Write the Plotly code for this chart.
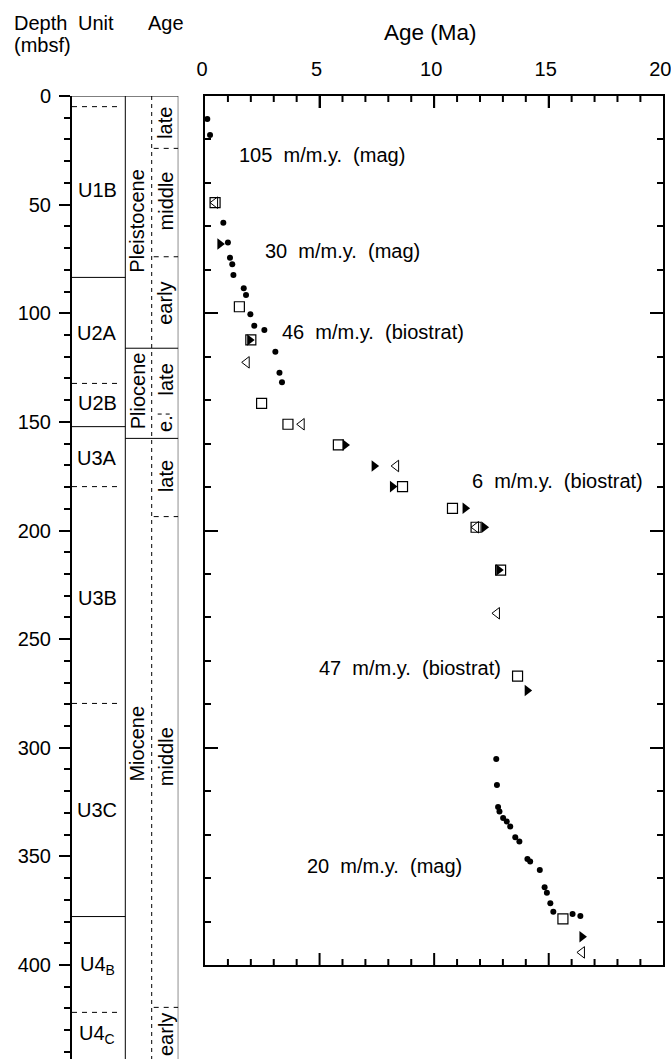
import plotly.graph_objects as go

W, H = 671, 1059
FONT = "Liberation Sans, Arial, sans-serif"
FS = 20

# ---------------- data (age in Ma, depth in mbsf) ----------------
mag_age = [0.10, 0.22, 0.80, 1.00, 1.09, 1.19, 1.24, 1.69, 1.79, 1.98, 2.15, 2.59, 3.07, 3.25, 3.36,
           12.71, 12.74, 12.79, 12.85, 13.01, 13.17, 13.32, 13.54, 13.72, 14.07, 14.19, 14.61,
           14.82, 14.92, 15.07, 15.20, 16.04, 16.38]
mag_depth = [10.6, 18.0, 58.3, 67.4, 74.4, 77.5, 82.4, 88.5, 91.6, 100.5, 105.7, 107.7, 117.7, 127.4, 131.8,
             305.2, 317.1, 327.3, 329.3, 332.3, 334.0, 336.2, 341.2, 343.2, 351.2, 352.4, 356.3,
             364.2, 366.7, 371.6, 375.5, 376.5, 377.4]

sq_age = [0.44, 1.50, 2.00, 2.47, 3.62, 5.82, 8.62, 10.80, 11.83, 12.90, 13.64, 15.62]
sq_depth = [49.1, 97.0, 112.3, 141.5, 151.1, 160.6, 179.8, 189.8, 198.5, 218.2, 267.0, 378.8]

trf_age = [0.65, 1.95, 6.11, 7.38, 8.18, 11.35, 12.18, 12.82, 14.06, 16.45]
trf_depth = [68.1, 112.3, 160.6, 170.3, 179.8, 189.8, 198.5, 218.2, 273.6, 387.0]

tro_age = [0.44, 1.82, 4.22, 8.34, 11.83, 12.74, 16.45]
tro_depth = [49.1, 122.6, 151.1, 170.3, 198.5, 238.1, 394.2]

rate_labels = ["105\u00a0 m/m.y.\u00a0 (mag)", "30\u00a0 m/m.y.\u00a0 (mag)", "46\u00a0 m/m.y.\u00a0 (biostrat)",
               "6\u00a0 m/m.y.\u00a0 (biostrat)", "47\u00a0 m/m.y.\u00a0 (biostrat)", "20\u00a0 m/m.y.\u00a0 (mag)"]
rate_age = [1.40, 2.53, 3.27, 11.57, 13.0, 4.37]
rate_depth = [27.2, 71.3, 108.5, 177.1, 263.3, 354.4]
rate_anchor = ["left", "left", "left", "left", "right", "left"]

# age-axis tick values
age_major_ticks = [0, 5, 10, 15, 20]
age_minor_ticks = [1, 2, 3, 4, 6, 7, 8, 9, 11, 12, 13, 14, 16, 17, 18, 19]

# lithologic units
unit_names = ["U1B", "U2A", "U2B", "U3A", "U3B", "U3C", "U4<sub>B</sub>", "U4<sub>C</sub>"]
unit_label_depth = [43.3, 109.2, 141.5, 166.8, 231.2, 328.6, 400.0, 432.0]
unit_solid = [83.5, 152.2, 377.7]
unit_dashed = [4.9, 132.3, 179.8, 279.6, 421.8]

# epochs / ages
epoch_names = ["Pleistocene", "Pliocene", "Miocene"]
epoch_label_depth = [57.6, 135.7, 298.3]
epoch_bounds = [116.1, 157.6]
subage_names = ["late", "middle", "early", "late", "e.", "late", "middle", "early"]
subage_label_depth = [12.6, 48.3, 95.4, 130.7, 150.7, 175.2, 304.1, 432.0]
subage_dashed = [24.1, 74.0, 193.6, 419.5]
subage_short = [146.4]

# ---------------- geometry ----------------
PX = 2.1725          # px per metre
Y0 = 96              # pixel of depth 0
Y400 = Y0 + 400 * PX
def py(p):           # pixel -> paper
    return 1 - p / H

L_LEFT, L_UNIT, L_DASH, L_RIGHT = 72, 125.3, 151.7, 178.3
R_LEFT, R_RIGHT = 205, 663.3
LEFT_MAX = (H - Y0) / PX

fig = go.Figure()
fig.add_trace(go.Scatter(x=mag_age, y=mag_depth, mode="markers",
                         marker=dict(symbol="circle", size=6, color="black"), xaxis="x", yaxis="y"))
fig.add_trace(go.Scatter(x=sq_age, y=sq_depth, mode="markers",
                         marker=dict(symbol="square-open", size=10, color="black", line=dict(width=1.2)),
                         xaxis="x", yaxis="y"))
fig.add_trace(go.Scatter(x=trf_age, y=trf_depth, mode="markers",
                         marker=dict(symbol="triangle-right", size=10, color="black", line=dict(width=0)),
                         xaxis="x", yaxis="y"))
fig.add_trace(go.Scatter(x=tro_age, y=tro_depth, mode="markers",
                         marker=dict(symbol="triangle-left-open", size=10, color="black", line=dict(width=1)),
                         xaxis="x", yaxis="y"))
fig.add_trace(go.Scatter(x=[None], y=[None], xaxis="x2", yaxis="y2", showlegend=False))
fig.add_trace(go.Scatter(x=[None], y=[None], xaxis="x", yaxis="y3", showlegend=False))

shapes = []
def seg(x0, x1, d, dash="solid", w=1):
    shapes.append(dict(type="line", xref="x2", yref="y2", x0=x0, x1=x1, y0=d, y1=d,
                       line=dict(color="black", width=w, dash=dash)))
def vseg(x, dash="solid", w=1):
    shapes.append(dict(type="line", xref="x2", yref="y2", x0=x, x1=x, y0=0, y1=LEFT_MAX + 5,
                       line=dict(color="black", width=w, dash=dash)))

vseg(L_UNIT)
vseg(L_RIGHT)
vseg(L_DASH, dash="4px,4px")
seg(L_LEFT, L_RIGHT, 0)
for d in unit_solid:
    seg(L_LEFT, L_UNIT, d)
for d in unit_dashed:
    seg(L_LEFT, L_UNIT - 6, d, dash="5px,5px")
for d in epoch_bounds:
    seg(L_UNIT, L_RIGHT, d)
for d in subage_dashed:
    seg(L_DASH + 2, L_RIGHT, d, dash="5px,5px")
for d in subage_short:
    seg(L_DASH + 6, L_RIGHT - 5, d, dash="4px,4px")

# inward ticks on the top and bottom age axes
def xtick(v, length):
    for base, sgn in ((Y0, 1), (Y400, -1)):
        shapes.append(dict(type="line", xref="x", yref="paper", x0=v, x1=v,
                           y0=py(base), y1=py(base + sgn * length),
                           line=dict(color="black", width=2)))
for v in age_major_ticks[1:-1]:
    xtick(v, 12)
for v in age_minor_ticks:
    xtick(v, 6)

ann = []
for n, d in zip(unit_names, unit_label_depth):
    ann.append(dict(x=97, y=d, xref="x2", yref="y2", text=n, showarrow=False,
                    font=dict(size=FS, family=FONT, color="black")))
for n, d in zip(epoch_names, epoch_label_depth):
    ann.append(dict(x=137.5, y=d, xref="x2", yref="y2", text=n, showarrow=False, textangle=-90,
                    font=dict(size=FS, family=FONT, color="black")))
for n, d in zip(subage_names, subage_label_depth):
    ann.append(dict(x=165.5, y=d, xref="x2", yref="y2", text=n, showarrow=False, textangle=-90,
                    font=dict(size=FS, family=FONT, color="black")))
for t, a, d, xa in zip(rate_labels, rate_age, rate_depth, rate_anchor):
    ann.append(dict(x=a, y=d, xref="x", yref="y", text=t, showarrow=False, xanchor=xa,
                    font=dict(size=FS, family=FONT, color="black")))
for t, x, y, xa, fs in [("Depth", 12, 23, "left", FS), ("(mbsf)", 12, 45, "left", FS),
                        ("Unit", 96, 23, "center", FS), ("Age", 165.7, 23, "center", FS),
                        ("Age (Ma)", 430, 33, "center", 22.5)]:
    ann.append(dict(x=x / W, y=py(y), xref="paper", yref="paper", text=t, showarrow=False,
                    xanchor=xa, yanchor="middle", font=dict(size=fs, family=FONT, color="black")))

axfont = dict(size=FS, family=FONT, color="black")
XDOM = [R_LEFT / W, R_RIGHT / W]
YDOM = [py(Y400), py(Y0)]
ycommon = dict(domain=YDOM, range=[400, 0], automargin=False, showgrid=False, zeroline=False,
               showline=True, linecolor="black", linewidth=2, ticks="inside", ticklen=13, tickwidth=2,
               tickcolor="black", tick0=0, dtick=100, showticklabels=False,
               minor=dict(ticks="inside", ticklen=6, tickwidth=2, tickcolor="black", tick0=0, dtick=20,
                          showgrid=False))

fig.update_layout(
    template="none",
    width=W, height=H, autosize=False, margin=dict(l=0, r=0, t=0, b=0, pad=0, autoexpand=False),
    paper_bgcolor="white", plot_bgcolor="white", showlegend=False,
    font=dict(family=FONT, size=FS, color="black"),
    xaxis=dict(domain=XDOM, range=[0, 20], side="top", anchor="y", automargin=False,
               showgrid=False, zeroline=False, showline=True, linecolor="black", linewidth=2,
               mirror=True, ticks="inside", ticklen=12, tickwidth=2, tickcolor="black",
               tickmode="array", tickvals=age_major_ticks, ticktext=[str(v) for v in age_major_ticks],
               tickfont=axfont, ticklabelstandoff=10, ticklabelshift=-3, ticklabeloverflow="allow"),
    yaxis=dict(ycommon, side="left", anchor="x"),
    yaxis3=dict(ycommon, side="right", anchor="x", overlaying="y"),
    xaxis2=dict(domain=[L_LEFT / W, L_RIGHT / W], range=[L_LEFT, L_RIGHT], anchor="y2",
                visible=False, fixedrange=True, automargin=False),
    yaxis2=dict(domain=[0, py(Y0)], range=[LEFT_MAX, 0], anchor="x2", side="left", automargin=False,
                showgrid=False, zeroline=False, showline=True, linecolor="black", linewidth=2,
                ticks="outside", ticklen=11, tickwidth=2, tickcolor="black",
                tick0=0, dtick=50, tickfont=axfont, ticklabelstandoff=4,
                minor=dict(ticks="outside", ticklen=6, tickwidth=2, tickcolor="black", tick0=0, dtick=10,
                           showgrid=False)),
    shapes=shapes, annotations=ann,
)
fig.write_html("out.html", config={"displayModeBar": False},
               post_script="document.body.style.margin='0';document.body.style.overflow='hidden';")
